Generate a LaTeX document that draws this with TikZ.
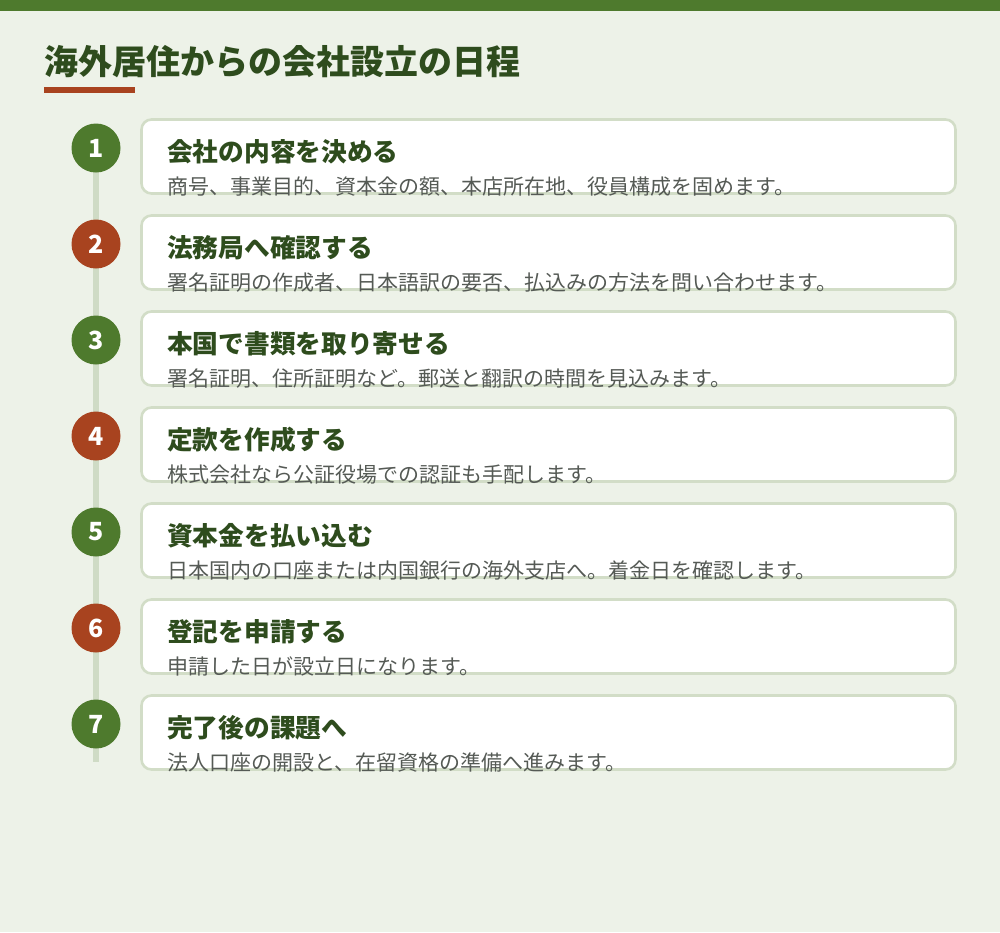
\documentclass[tikz,border=0pt]{standalone}
\usepackage{fontspec}
\setmainfont{Noto Sans CJK JP}
\newfontfamily\cjk{Noto Sans CJK JP}
\definecolor{bg}{HTML}{EDF2E8}
\definecolor{topgreen}{HTML}{4E7A2D}
\definecolor{accred}{HTML}{A8431F}
\definecolor{darkgreen}{HTML}{2E4C1D}
\definecolor{cardborder}{HTML}{D2DDC7}
\definecolor{linecol}{HTML}{CFDBC5}
\definecolor{desccol}{HTML}{555A55}
\begin{document}
\begin{tikzpicture}[x=1pt,y=-1pt,
  card/.style={draw=cardborder,line width=2.6pt,fill=white,rounded corners=10pt},
  numg/.style={circle,fill=topgreen,minimum size=49pt,inner sep=0pt,text=white,font=\cjk\bfseries\fontsize{25}{25}\selectfont},
  numr/.style={numg,fill=accred},
  ttl/.style={anchor=base west,inner sep=0pt,text=darkgreen,font=\cjk\bfseries\fontsize{25.7}{26}\selectfont},
  desc/.style={anchor=base west,inner sep=0pt,text=desccol,font=\cjk\fontsize{21}{21}\selectfont}]
\useasboundingbox (0,0) rectangle (1000,932);
\fill[bg] (0,0) rectangle (1000,932);
\fill[topgreen] (0,0) rectangle (1000,10.5);
\node[anchor=base west,inner sep=0pt,text=darkgreen,font=\cjk\bfseries\fontsize{34}{34}\selectfont] (title) at (44,74.5) {海外居住からの会社設立の日程};
\fill[accred] (44,87) rectangle (135,92.5);
\coordinate (ltop) at (96,147);
\coordinate (lbot) at (96,762);
\draw[linecol,line width=6pt] (ltop) -- (lbot);
\foreach \i/\st/\t/\d in {
 0/numg/会社の内容を決める/商号、事業目的、資本金の額、本店所在地、役員構成を固めます。,
 1/numr/法務局へ確認する/署名証明の作成者、日本語訳の要否、払込みの方法を問い合わせます。,
 2/numg/本国で書類を取り寄せる/署名証明、住所証明など。郵送と翻訳の時間を見込みます。,
 3/numr/定款を作成する/株式会社なら公証役場での認証も手配します。,
 4/numg/資本金を払い込む/日本国内の口座または内国銀行の海外支店へ。着金日を確認します。,
 5/numr/登記を申請する/申請した日が設立日になります。,
 6/numg/完了後の課題へ/法人口座の開設と、在留資格の準備へ進みます。}{
  \pgfmathsetmacro{\yy}{96*\i}
  \begin{scope}[yshift=-\yy pt]
    \draw[card] (141.5,119.5) rectangle (955.5,193.5);
    \node[\st] (n\i) at (96,148) {\the\numexpr\i+1\relax};
    \node[ttl] (t\i) at (167,161.5) {\t};
    \node[desc] (d\i) at (167,194.5) {\d};
  \end{scope}
}
\end{tikzpicture}
\end{document}
